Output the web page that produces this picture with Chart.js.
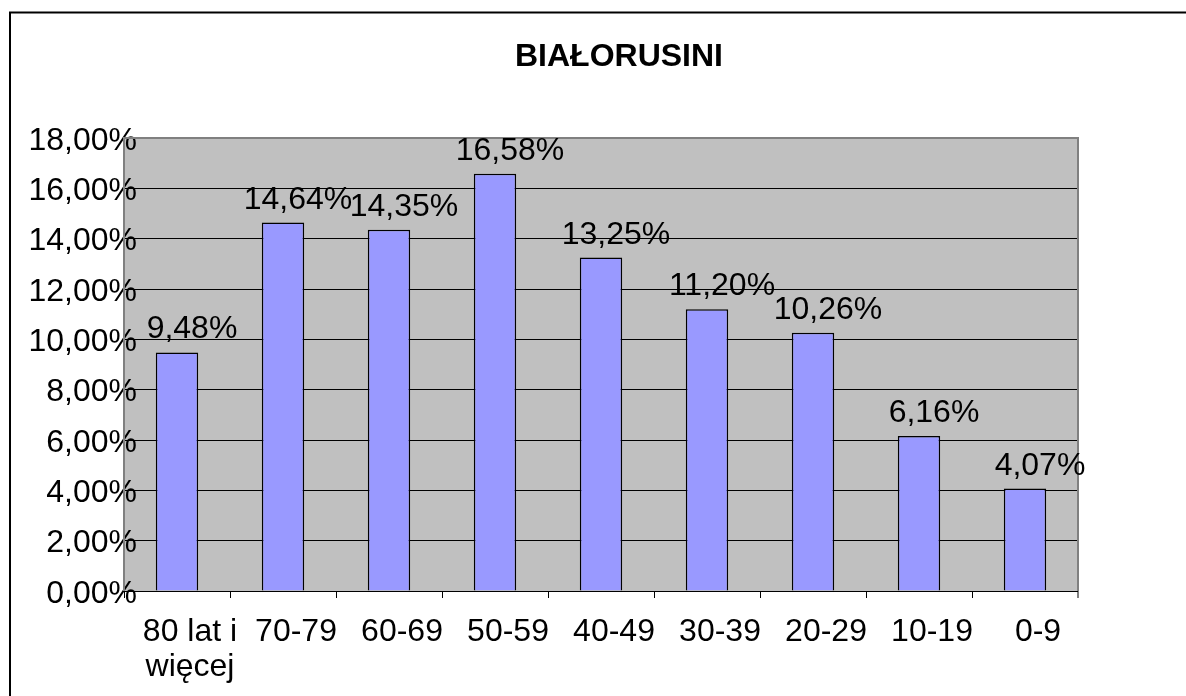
<!DOCTYPE html>
<html>
<head>
<meta charset="utf-8">
<script src="https://cdn.jsdelivr.net/npm/chart.js@4.4.1/dist/chart.umd.min.js"></script>
<style>
  html, body { margin: 0; padding: 0; background: #fff; overflow: hidden; }
  #wrap { position: relative; width: 1186px; height: 696px; }
</style>
</head>
<body>
<div id="wrap"><canvas id="chart" width="1186" height="696"></canvas></div>
<script>
// data
const chartTitle = 'BIAŁORUSINI';
const categories = [['80 lat i', 'więcej'], '70-79', '60-69', '50-59', '40-49', '30-39', '20-29', '10-19', '0-9'];
const shares = [9.48, 14.64, 14.35, 16.58, 13.25, 11.20, 10.26, 6.16, 4.07];
const yTicks = [0, 2, 4, 6, 8, 10, 12, 14, 16, 18];

const FONT = "'Liberation Sans', Arial, sans-serif";

function pct(v) {
    return v.toFixed(2).replace('.', ',') + '%';
}

// grey plot area, outer frame, title
const excelLook = {
    id: 'excelLook',
    afterLayout(chart) {
        // y labels run into the plot area, like the Excel original
        chart.scales.y._computeLabelArea = function() { return undefined; };
    },
    beforeDraw(chart) {
        const ctx = chart.ctx, a = chart.chartArea;
        ctx.save();
        ctx.fillStyle = '#C0C0C0';
        ctx.fillRect(a.left, a.top, a.right - a.left, a.bottom - a.top);
        ctx.strokeStyle = '#000';
        ctx.lineWidth = 2;
        ctx.strokeRect(10, 12.5, 2000, 2000);
        ctx.fillStyle = '#000';
        ctx.font = 'bold 32px ' + FONT;
        ctx.textAlign = 'center';
        ctx.textBaseline = 'alphabetic';
        ctx.fillText(chartTitle, 619, 66);
        ctx.restore();
    },
    afterDatasetsDraw(chart) {
        const ctx = chart.ctx, a = chart.chartArea;
        ctx.save();
        ctx.strokeStyle = '#808080';
        ctx.lineWidth = 2;
        ctx.beginPath();
        ctx.moveTo(a.left, a.bottom);
        ctx.lineTo(a.left, a.top);
        ctx.lineTo(a.right, a.top);
        ctx.lineTo(a.right, a.bottom + 7);
        ctx.stroke();
        ctx.strokeStyle = '#000';
        ctx.lineWidth = 1;
        ctx.beginPath();
        ctx.moveTo(a.left, a.bottom + 0.5);
        ctx.lineTo(a.right, a.bottom + 0.5);
        ctx.stroke();

        // value labels above the bars
        const meta = chart.getDatasetMeta(0);
        ctx.fillStyle = '#000';
        ctx.font = '32px ' + FONT;
        ctx.textAlign = 'center';
        ctx.textBaseline = 'alphabetic';
        meta.data.forEach(function(bar, i) {
            ctx.fillText(pct(shares[i]), bar.x + 15, bar.y - 14);
        });
        ctx.restore();
    }
};

new Chart(document.getElementById('chart'), {
    type: 'bar',
    data: {
        labels: categories,
        datasets: [{
            data: shares,
            backgroundColor: '#9999FF',
            borderColor: '#000',
            borderWidth: 1.5,
            barPercentage: 0.4,
            categoryPercentage: 1.0
        }]
    },
    options: {
        responsive: false,
        animation: false,
        layout: {
            padding: { top: 138, right: 108, left: 0, bottom: 0 }
        },
        plugins: {
            legend: { display: false },
            title: { display: false },
            tooltip: { enabled: false }
        },
        scales: {
            x: {
                grid: {
                    offset: true,
                    drawOnChartArea: false,
                    drawTicks: true,
                    tickLength: 7,
                    color: '#000'
                },
                border: { display: false },
                ticks: {
                    color: '#000',
                    padding: 17,
                    labelOffset: 13,
                    maxRotation: 0,
                    autoSkip: false,
                    font: { family: FONT, size: 32, lineHeight: 1.08 }
                },
                afterFit(scale) { scale.height = 105; }
            },
            y: {
                min: 0,
                max: 18,
                afterBuildTicks(scale) {
                    scale.ticks = yTicks.map(function(v) { return { value: v }; });
                },
                grid: {
                    drawTicks: false,
                    color: '#000',
                    lineWidth: 1
                },
                border: { display: false },
                ticks: {
                    color: '#000',
                    padding: -13,
                    labelOffset: 3,
                    font: { family: FONT, size: 32 },
                    callback: function(v) { return pct(v); }
                },
                afterFit(scale) { scale.width = 124; }
            }
        }
    },
    plugins: [excelLook]
});
</script>
</body>
</html>
